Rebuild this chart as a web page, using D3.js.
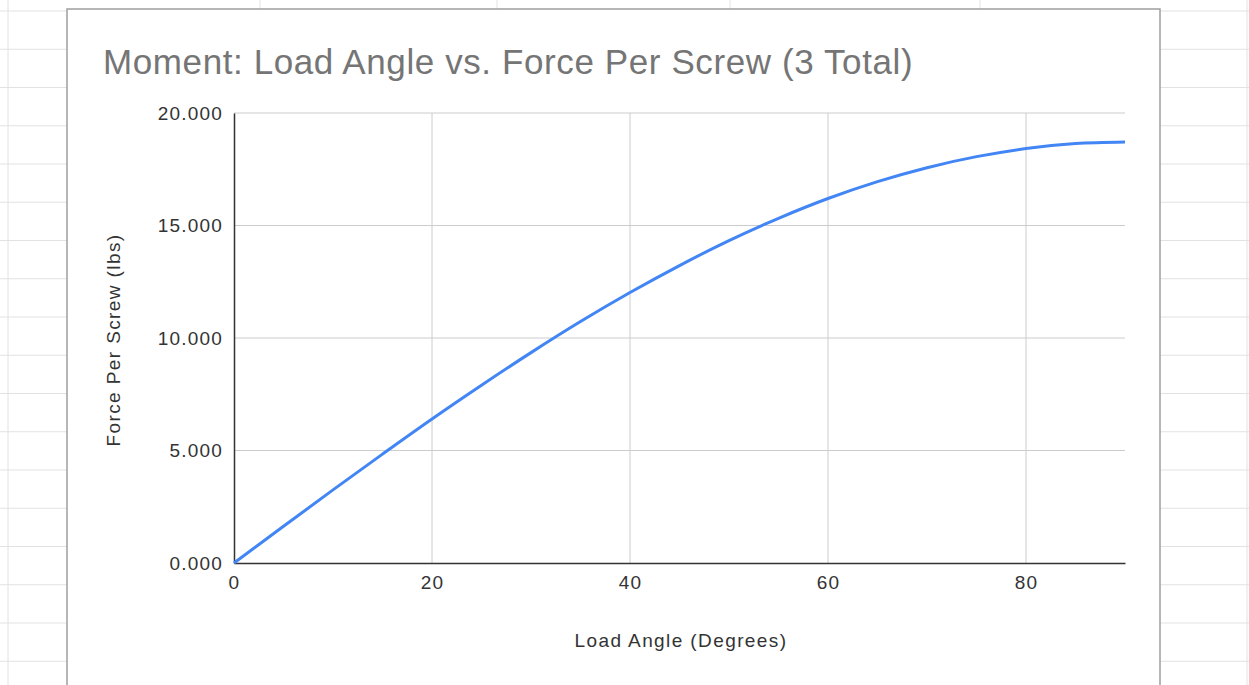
<!DOCTYPE html>
<html>
<head>
<meta charset="utf-8">
<script src="https://cdn.jsdelivr.net/npm/d3@7"></script>
<style>
  body { margin: 0; background: #fff; }
  svg { display: block; font-family: Arial, "Liberation Sans", sans-serif; }
</style>
</head>
<body>
<div class="chart-wrapper"></div>
<script>
// load angle (degrees) vs force per screw (lbs)
var angles = [0, 5, 10, 15, 20, 25, 30, 35, 40, 45, 50, 55, 60, 65, 70, 75, 80, 85, 90];
var forces = [0, 1.63, 3.25, 4.84, 6.40, 7.90, 9.35, 10.73, 12.02, 13.22, 14.33, 15.32, 16.20, 16.95, 17.57, 18.06, 18.42, 18.64, 18.71];
var xTicks = [0, 20, 40, 60, 80];
var yTicks = [0, 5, 10, 15, 20];

var width = 1249, height = 685;
var svg = d3.select(".chart-wrapper").append("svg").attr("width", width).attr("height", height);

// spreadsheet cells behind the chart
var rowLines = d3.range(11, height, 38.25);
var colLines = [8, 260, 497, 730, 980, 1247];
svg.selectAll(".row").data(rowLines).enter().append("line")
  .attr("x1", 0).attr("x2", width).attr("y1", function(d) { return d; }).attr("y2", function(d) { return d; })
  .attr("stroke", "#e2e2e2").attr("stroke-width", 1);
svg.selectAll(".col").data(colLines).enter().append("line")
  .attr("x1", function(d) { return d; }).attr("x2", function(d) { return d; }).attr("y1", 0).attr("y2", height)
  .attr("stroke", "#e2e2e2").attr("stroke-width", 1);

// chart box
svg.append("rect").attr("x", 67).attr("y", 9).attr("width", 1093).attr("height", 700)
  .attr("fill", "#fff").attr("stroke", "#9e9e9e").attr("stroke-width", 1.5);

var plot = { left: 234, top: 113, right: 1125, bottom: 563 };
var x = d3.scaleLinear().domain([0, 90]).range([plot.left, plot.right]);
var y = d3.scaleLinear().domain([0, 20]).range([plot.bottom, plot.top]);

// gridlines
svg.append("g").selectAll("line").data(xTicks.slice(1)).enter().append("line")
  .attr("x1", function(d) { return x(d); }).attr("x2", function(d) { return x(d); })
  .attr("y1", plot.top).attr("y2", plot.bottom)
  .attr("stroke", "#cccccc").attr("stroke-width", 1);
svg.append("g").selectAll("line").data(yTicks.slice(1)).enter().append("line")
  .attr("x1", plot.left).attr("x2", plot.right)
  .attr("y1", function(d) { return y(d); }).attr("y2", function(d) { return y(d); })
  .attr("stroke", "#cccccc").attr("stroke-width", 1);

// axes
var xAxis = svg.append("g").attr("transform", "translate(0," + plot.bottom + ")")
  .call(d3.axisBottom(x).tickValues(xTicks).tickSize(0).tickPadding(13));
var yAxis = svg.append("g").attr("transform", "translate(" + plot.left + ",0)")
  .call(d3.axisLeft(y).tickValues(yTicks).tickSize(0).tickPadding(11).tickFormat(d3.format(".3f")));
[xAxis, yAxis].forEach(function(a) {
  a.select(".domain").attr("stroke", "#333").attr("stroke-width", 1.5);
  a.selectAll("text").attr("font-size", 19).attr("letter-spacing", 1.2).attr("fill", "#333")
    .attr("font-family", "Arial, 'Liberation Sans', sans-serif");
});

// line
var pts = angles.map(function(a, i) { return [a, forces[i]]; });
svg.append("path").datum(pts)
  .attr("fill", "none").attr("stroke", "#4285f4").attr("stroke-width", 3)
  .attr("d", d3.line().x(function(d) { return x(d[0]); }).y(function(d) { return y(d[1]); }).curve(d3.curveCatmullRom));

// titles
svg.append("text").attr("x", 103).attr("y", 74).attr("font-size", 35).attr("letter-spacing", 0.6).attr("fill", "#757575")
  .text("Moment: Load Angle vs. Force Per Screw (3 Total)");
svg.append("text").attr("x", 681).attr("y", 647).attr("text-anchor", "middle").attr("font-size", 19)
  .attr("letter-spacing", 1.4).attr("fill", "#333")
  .text("Load Angle (Degrees)");
svg.append("text").attr("transform", "translate(120,340) rotate(-90)").attr("text-anchor", "middle")
  .attr("font-size", 19).attr("letter-spacing", 1.4).attr("fill", "#333")
  .text("Force Per Screw (lbs)");
</script>
</body>
</html>
